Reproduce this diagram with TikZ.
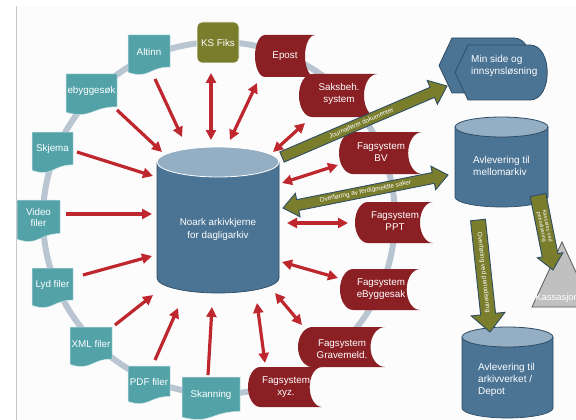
\documentclass[tikz,border=0pt]{standalone}
\usepackage{fontspec}
\setmainfont{Liberation Sans}
\usetikzlibrary{arrows.meta,calc}
\definecolor{tealc}{HTML}{52A2A8}
\definecolor{redc}{HTML}{8A1F24}
\definecolor{olivec}{HTML}{7A7D2C}
\definecolor{steelc}{HTML}{4A7394}
\definecolor{steeltop}{HTML}{94AEC3}
\definecolor{steelline}{HTML}{2E4D66}
\definecolor{ringc}{HTML}{B9C5D1}
\definecolor{arrred}{HTML}{BE272D}
\definecolor{kassc}{HTML}{C0C0C0}

\newcommand\docshape[4]{%
 \pgfmathsetmacro\dsA{#2+0.8*(#4-#2)}%
 \pgfmathsetmacro\dsB{#2+1.11*(#4-#2)}%
 \pgfmathsetmacro\dsC{#2+0.934*(#4-#2)}%
 \pgfmathsetmacro\dsM{(#1+#3)/2}%
 \filldraw[docsty] (#1,#2) -- (#3,#2) -- (#3,\dsA) .. controls (\dsM,\dsA) and (\dsM,\dsB) .. (#1,\dsC) -- cycle;}

\newcommand\storeshape[4]{%
 \pgfmathsetmacro\rsR{(#3-#1)/6}%
 \pgfmathsetmacro\rsH{(#4-#2)/2}%
 \pgfmathsetmacro\rsM{(#2+#4)/2}%
 \fill[redc] ({#1+\rsR},#2) -- (#3,#2) .. controls ({#3-0.552*\rsR},#2) and ({#3-\rsR},{\rsM-0.552*\rsH}) .. ({#3-\rsR},\rsM) .. controls ({#3-\rsR},{\rsM+0.552*\rsH}) and ({#3-0.552*\rsR},#4) .. (#3,#4) -- ({#1+\rsR},#4) .. controls ({#1+\rsR-0.552*\rsR},#4) and (#1,{\rsM+0.552*\rsH}) .. (#1,\rsM) .. controls (#1,{\rsM-0.552*\rsH}) and ({#1+\rsR-0.552*\rsR},#2) .. ({#1+\rsR},#2) -- cycle;}

\newcommand\cylshape[6]{%
 \filldraw[fill=steelc, draw=steelline, line width=0.7pt] ({#1-#4},#2) -- ({#1-#4},#3) arc[start angle=180, end angle=360, x radius=#4pt, y radius=#5pt] -- ({#1+#4},#2);
 \filldraw[fill=steeltop, draw=#6, line width=0.8pt] (#1,#2) ellipse[x radius=#4pt, y radius=#5pt];}

\newcommand\blockarrow[5]{%
 \coordinate (ba-h) at ($(#2)!#5pt!(#1)$);
 \filldraw[olivearr] ($(#1)!#3pt!90:(#2)$) -- ($(ba-h)!#3pt!90:(#2)$) -- ($(ba-h)!#4pt!90:(#2)$) -- (#2) -- ($(ba-h)!#4pt!-90:(#2)$) -- ($(ba-h)!#3pt!-90:(#2)$) -- ($(#1)!#3pt!-90:(#2)$) -- cycle;}

\newcommand\dblarrow[5]{%
 \coordinate (da-h1) at ($(#1)!#5pt!(#2)$);
 \coordinate (da-h2) at ($(#2)!#5pt!(#1)$);
 \filldraw[olivearr] (#1) -- ($(da-h1)!#4pt!90:(#2)$) -- ($(da-h1)!#3pt!90:(#2)$) -- ($(da-h2)!#3pt!90:(#2)$) -- ($(da-h2)!#4pt!90:(#2)$) -- (#2) -- ($(da-h2)!#4pt!-90:(#2)$) -- ($(da-h2)!#3pt!-90:(#2)$) -- ($(da-h1)!#3pt!-90:(#2)$) -- ($(da-h1)!#4pt!-90:(#2)$) -- cycle;}

\begin{document}
\begin{tikzpicture}[x=1pt,y=-1pt,
 lbl/.style={text=white, font=\fontsize{9.8}{11.5}\selectfont, align=center, inner sep=0pt},
 rlbl/.style={text=white, font=\fontsize{10}{12}\selectfont, align=left, inner sep=0pt, anchor=west},
 docsty/.style={fill=tealc, draw=white!70!tealc, line width=0.5pt},
 redarr/.style={arrred, line width=3.2pt, -{Triangle[length=10pt,width=10pt]}},
 redarrb/.style={arrred, line width=3.2pt, {Triangle[length=10pt,width=10pt]}-{Triangle[length=10pt,width=10pt]}},
 olivearr/.style={fill=olivec, draw=steelline, line width=0.9pt, line join=miter},
 arrlab/.style={text=white, font=\fontsize{6.4}{7}\selectfont, inner sep=0pt, align=center},
 arrlabs/.style={text=white, font=\fontsize{5.3}{5.8}\selectfont, inner sep=0pt, align=center},
]
\useasboundingbox (0,0) rectangle (576,420);
\fill[white] (0,0) rectangle (576,420);
\fill[black!1] (17,6) rectangle (576,420);
\draw[black!22, line width=1pt] (16.5,6) -- (16.5,420);

% ring
\draw[ringc, line width=6pt] (219,218) circle[radius=176pt];

% teal documents
\docshape{128}{35}{170}{75}
\docshape{66}{74}{117}{115}
\docshape{32}{132}{73}{173}
\docshape{17}{200}{60}{242}
\docshape{32}{268}{73}{308}
\docshape{70}{327}{112}{367}
\docshape{128}{366}{170}{404}
\docshape{182}{377}{240}{420}

% KS Fiks
\filldraw[fill=olivec, draw=white, line width=0.6pt, rounded corners=5pt] (197,22) rectangle (239,63);

% red stored-data shapes
\storeshape{255}{35}{315}{77}
\storeshape{299}{74}{377}{117}
\storeshape{339}{132}{422}{174}
\storeshape{355}{202}{433}{243}
\storeshape{340}{269}{420}{310}
\storeshape{298}{327}{385}{367}
\storeshape{248}{367}{322}{407}

% cylinders
\cylshape{218}{162}{278}{61}{15}{white}
\cylshape{501.5}{127}{197}{46.5}{10}{steelline}
\cylshape{507.5}{337}{408}{45.5}{10}{steelline}

% Min side display shapes
\filldraw[fill=steelc, draw=steelline, line width=0.8pt] (439,65.5) -- (452,38) -- (514,38) .. controls (537,38) and (537,93) .. (514,93) -- (452,93) -- cycle;
\filldraw[fill=steelc, draw=steelline, line width=0.8pt] (455,72.5) -- (468,45) -- (530,45) .. controls (553,45) and (553,100) .. (530,100) -- (468,100) -- cycle;

% Kassasjon triangle
\filldraw[fill=kassc, draw=black!65, line width=0.8pt] (562,242) -- (592,307) -- (532,307) -- cycle;

% texts
\node[lbl] (altinn) at (149,52) {Altinn};
\node[lbl] (ebygg) at (91.5,91) {ebyggesøk};
\node[lbl] (skjema) at (52.5,149) {Skjema};
\node[lbl] (video) at (38.5,217.5) {Video\\filer};
\node[lbl] (lyd) at (52.5,285) {Lyd filer};
\node[lbl] (xml) at (91,344) {XML filer};
\node[lbl] (pdf) at (149,382) {PDF filer};
\node[lbl] (skann) at (211,395) {Skanning};
\node[lbl] (ksfiks) at (218,42.5) {KS Fiks};
\node[lbl] (epost) at (285,56) {Epost};
\node[lbl] (saks) at (339,94) {Saksbeh.\\system};
\node[lbl] (bv) at (381,152) {Fagsystem\\BV};
\node[lbl] (ppt) at (395,221) {Fagsystem\\PPT};
\node[lbl] (ebyggesak) at (381,289) {Fagsystem\\eByggesak};
\node[lbl] (grave) at (342,349) {Fagsystem\\Gravemeld.};
\node[lbl] (xyz) at (286,387) {Fagsystem\\xyz.};
\node[lbl, font=\fontsize{9.8}{13}\selectfont] (core) at (218,229) {Noark arkivkjerne\\for dagligarkiv};
\node[rlbl] (minside) at (471,66) {Min side og\\innsynsløsning};
\node[rlbl] (mello) at (473,166) {Avlevering til\\mellomarkiv};
\node[rlbl] (depot) at (478,380) {Avlevering til\\arkivverket /\\Depot};
\node[rlbl, font=\fontsize{9.5}{11}\selectfont] (kass) at (535,298) {Kassasjon};

% red arrows into the core
\draw[redarr] ([shift={(6,27)}]altinn.center) -- ([shift={(-36,-92)}]core.center);
\draw[redarr] ([shift={(25.5,19)}]ebygg.center) -- ([shift={(-56,-77)}]core.center);
\draw[redarr] ([shift={(24.5,3)}]skjema.center) -- ([shift={(-65,-53)}]core.center);
\draw[redarr] ([shift={(27.5,-3.5)}]video.center) -- ([shift={(-66,-15)}]core.center);
\draw[redarr] ([shift={(30.5,-10)}]lyd.center) -- ([shift={(-66,27)}]core.center);
\draw[redarr] ([shift={(24,-19)}]xml.center) -- ([shift={(-65,66)}]core.center);
\draw[redarr] ([shift={(6,-22)}]pdf.center) -- ([shift={(-40,79)}]core.center);
\draw[redarr] ([shift={(-3,-20)}]skann.center) -- ([shift={(-6,78)}]core.center);
% double-headed red arrows
\draw[redarrb] ([shift={(-7,30.5)}]ksfiks.center) -- ([shift={(-7,-89)}]core.center);
\draw[redarrb] ([shift={(-28,27)}]epost.center) -- ([shift={(12,-89)}]core.center);
\draw[redarrb] ([shift={(-34,29)}]saks.center) -- ([shift={(55,-77)}]core.center);
\draw[redarrb] ([shift={(-43,13)}]bv.center) -- ([shift={(64,-46)}]core.center);
\draw[redarrb] ([shift={(-47,2)}]ppt.center) -- ([shift={(69,-6)}]core.center);
\draw[redarrb] ([shift={(-43,-11)}]ebyggesak.center) -- ([shift={(64,33)}]core.center);
\draw[redarrb] ([shift={(-40,-24)}]grave.center) -- ([shift={(57,64)}]core.center);
\draw[redarrb] ([shift={(-21,-24)}]xyz.center) -- ([shift={(39,74)}]core.center);

% olive block arrows
\coordinate (j1) at ([shift={(64,-72)}]core.center);
\coordinate (j2) at ([shift={(-24,20)}]minside.west);
\coordinate (o1) at ([shift={(65,-21)}]core.center);
\coordinate (o2) at ([shift={(-25,9)}]mello.west);
\coordinate (p1) at ([shift={(5,54)}]mello.west);
\coordinate (p2) at ([shift={(12,-48)}]depot.west);
\coordinate (k1) at ([shift={(65,29)}]mello.west);
\coordinate (k2) at ([shift={(18,-28)}]kass.west);

\blockarrow{j1}{j2}{5.5}{13}{16}
\dblarrow{o1}{o2}{5.5}{12}{15}
\blockarrow{p1}{p2}{7.5}{17}{18}
\blockarrow{k1}{k2}{8}{13}{15}

\path (j1) -- (j2) node[arrlab, sloped, pos=0.48] (jlab) {Journalførte dokumenter};
\path (o1) -- (o2) node[arrlab, sloped, pos=0.5] (olab) {Overføring av ferdigmeldte saker};
\path (p1) -- (p2) node[arrlab, sloped, pos=0.47] (plab) {Overføring ved periodisering};
\path (k1) -- (k2) node[arrlabs, sloped, pos=0.42] (klab) {Kasseres ved\\periodisering};
\end{tikzpicture}
\end{document}
